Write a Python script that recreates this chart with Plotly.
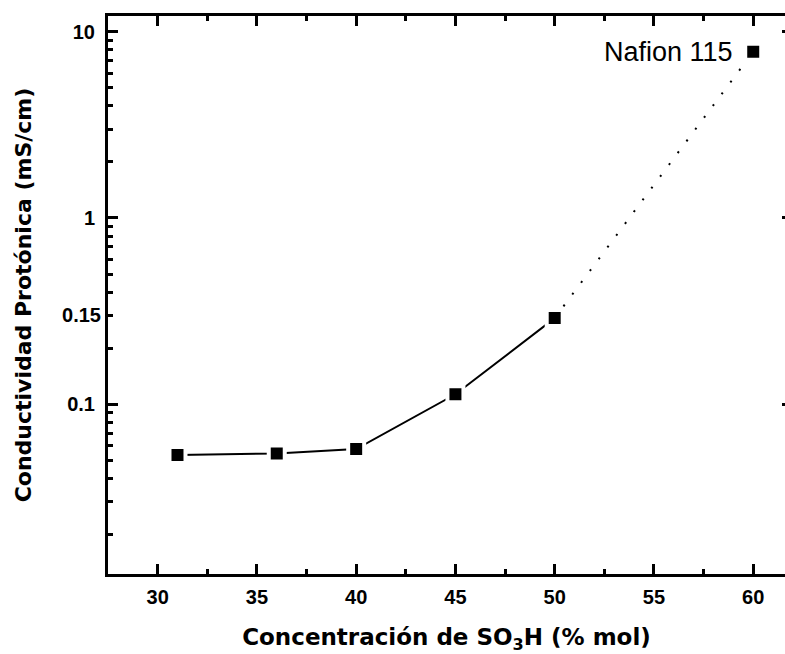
import math
import plotly.graph_objects as go

# Data
conc = [31, 36, 40, 45, 50]                       # % mol SO3H
cond = [0.0533, 0.0544, 0.0574, 0.1131, 0.290]     # mS/cm (position on log axis)
nafion_x = 60
nafion_y = 7.81
nafion_label = "Nafion 115"

x_ticks = [30, 35, 40, 45, 50, 55, 60]
x_minor = [32.5, 37.5, 42.5, 47.5, 52.5, 57.5]
y_major = [0.1, 1, 10]
y_major_text = ["0.1", "1", "10"]
y_extra = [0.3]
y_extra_text = ["0.15"]

y_minor = [m * 10 ** e for e in (-2, -1, 0, 1) for m in range(2, 10)]

x_range = [27.5, 61.6]
y_range = [-1.9115, 1.0842]

tickfont = dict(family="Liberation Sans", size=20, color="black", weight="bold")
titlefont = dict(family="DejaVu Sans", size=22, color="black", weight="bold")

fig = go.Figure()

# dotted connection to Nafion
fig.add_trace(go.Scatter(
    x=[conc[-1], nafion_x], y=[cond[-1], nafion_y], mode="lines",
    line=dict(color="black", width=2, dash="2px,12.7px"),
    hoverinfo="skip", showlegend=False))

# main series
fig.add_trace(go.Scatter(
    x=conc, y=cond, mode="lines+markers",
    line=dict(color="black", width=2),
    marker=dict(symbol="square", size=16, color="black",
                line=dict(color="white", width=4)),
    showlegend=False))

# Nafion point
fig.add_trace(go.Scatter(
    x=[nafion_x], y=[nafion_y], mode="markers",
    marker=dict(symbol="square", size=16, color="black",
                line=dict(color="white", width=4)),
    showlegend=False))

# invisible anchors so the overlay axes are drawn
for ax in ("y2", "y3"):
    fig.add_trace(go.Scatter(
        x=[nafion_x], y=[nafion_y], yaxis=ax, mode="markers",
        marker=dict(opacity=0), hoverinfo="skip", showlegend=False))

fig.add_annotation(x=nafion_x, y=math.log10(nafion_y), xref="x", yref="y",
                   text=nafion_label, showarrow=False, xanchor="right",
                   yanchor="middle", xshift=-18,
                   font=dict(family="Liberation Sans", size=27, color="black"))

fig.update_layout(
    width=785, height=654,
    margin=dict(l=108, r=0, t=16, b=80),
    paper_bgcolor="white", plot_bgcolor="white",
    xaxis=dict(
        range=x_range, tickmode="array", tickvals=x_ticks,
        ticks="inside", ticklen=10, tickwidth=3, tickcolor="black",
        showline=True, linewidth=3, linecolor="black", mirror="ticks",
        showgrid=False, zeroline=False, tickfont=tickfont,
        ticklabelstandoff=3,
        minor=dict(tickmode="array", tickvals=x_minor,
                   ticks="inside", ticklen=5,
                   tickwidth=3, tickcolor="black", showgrid=False),
        title=dict(text="Concentración de SO<sub>3</sub>H (% mol)",
                   font=dict(titlefont, size=23), standoff=23),
    ),
    yaxis=dict(
        type="log", range=y_range, tickmode="array", tickvals=y_major,
        ticktext=y_major_text,
        ticks="inside", ticklen=10, tickwidth=3, tickcolor="black",
        showline=True, linewidth=3, linecolor="black", mirror=False,
        showgrid=False, zeroline=False, tickfont=tickfont,
        ticklabelstandoff=6,
        minor=dict(tickmode="array", tickvals=y_minor, ticks="inside",
                   ticklen=5, tickwidth=3, tickcolor="black", showgrid=False),
        title=dict(text="Conductividad Protónica (mS/cm)",
                   font=titlefont, standoff=30),
    ),
    yaxis2=dict(
        type="log", range=y_range, overlaying="y", side="right",
        tickmode="array", tickvals=y_major, showticklabels=False,
        ticks="inside", ticklen=3, tickwidth=3, tickcolor="black",
        showline=False, showgrid=False, zeroline=False,
    ),
    yaxis3=dict(
        type="log", range=y_range, overlaying="y", side="left",
        tickmode="array", tickvals=y_extra, ticktext=y_extra_text,
        ticks="inside", ticklen=5, tickwidth=3, tickcolor="black",
        showline=False, showgrid=False, zeroline=False, tickfont=tickfont,
        ticklabelstandoff=6,
    ),
)

fig.write_html("out.html")
